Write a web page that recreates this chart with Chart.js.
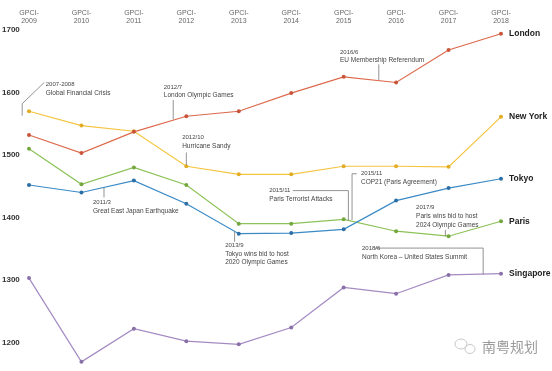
<!DOCTYPE html>
<html>
<head>
<meta charset="utf-8">
<script src="https://cdn.jsdelivr.net/npm/chart.js@4/dist/chart.umd.min.js"></script>
<style>
  body { margin: 0; background: #fff; }
  #wrap { width: 552px; height: 371px; position: relative; }
</style>
</head>
<body>
<div id="wrap"><canvas id="myChart"></canvas></div>
<script>
// Datos (GPCI 2009-2018)
const years = ["2009", "2010", "2011", "2012", "2013", "2014", "2015", "2016", "2017", "2018"]
const yTicks = [1200, 1300, 1400, 1500, 1600, 1700]

const london = [1532, 1503, 1537, 1562, 1570, 1599, 1625, 1616, 1668, 1694]
const newYork = [1570, 1547, 1538, 1482, 1469, 1469, 1482, 1482, 1481, 1561]
const tokyo = [1452, 1440, 1459, 1422, 1374, 1375, 1381, 1427, 1447, 1462]
const paris = [1510, 1453, 1480, 1452, 1390, 1390, 1397, 1378, 1370, 1394]
const singapore = [1303, 1169, 1222, 1202, 1197, 1224, 1288, 1278, 1308, 1310]

const cities = ["London", "New York", "Tokyo", "Paris", "Singapore"]

// Eventos: texto, posicion en indice de año / valor, y linea guia
const events = [
    { lines: ["2007-2008", "Global Financial Crisis"], x: 0.32, y: 1613, path: [[0.29, 1616], [-0.13, 1582], [-0.13, 1563]] },
    { lines: ["2012/7", "London Olympic Games"], x: 2.57, y: 1609, path: [[2.75, 1588], [2.75, 1557]] },
    { lines: ["2016/6", "EU Membership Referendum"], x: 5.93, y: 1665, path: [[6.67, 1645], [6.67, 1620]] },
    { lines: ["2012/10", "Hurricane Sandy"], x: 2.92, y: 1528, path: [[3, 1504], [3, 1484]] },
    { lines: ["2011/3", "Great East Japan Earthquake"], x: 1.22, y: 1424, path: [[1.43, 1448], [1.43, 1432]] },
    { lines: ["2013/9", "Tokyo wins bid to host", "2020 Olympic Games"], x: 3.74, y: 1356, path: [[3.92, 1377], [3.92, 1361]] },
    { lines: ["2015/11", "Paris Terrorist Attacks"], x: 4.58, y: 1443, path: [[5.03, 1443], [6.09, 1443], [6.09, 1395]] },
    { lines: ["2015/11", "COP21 (Paris Agreement)"], x: 6.33, y: 1470, path: [[6.25, 1470], [6.16, 1470], [6.16, 1396]] },
    { lines: ["2017/9", "Paris wins bid to host", "2024 Olympic Games"], x: 7.38, y: 1416, path: [[7.94, 1380], [7.94, 1370]] },
    { lines: ["2018/6", "North Korea \u2013 United States Summit"], x: 6.35, y: 1351, path: [[6.6, 1351], [8.66, 1351], [8.66, 1309]] }
]

const FONT = "'Liberation Sans', Arial, sans-serif"

const serie = (label, data, color, dot) => ({
    label: label,
    data: data,
    borderColor: color,
    backgroundColor: dot,
    borderWidth: 1.2,
    pointRadius: 2,
    pointBorderWidth: 0,
    pointBackgroundColor: dot,
    tension: 0
})

// Plugin para textos de eventos, nombres de ciudad y marca de agua
const extras = {
    id: "extras",
    afterDatasetsDraw(chart) {
        const ctx = chart.ctx
        const xs = chart.scales.x
        const ys = chart.scales.y
        const px = i => xs.getPixelForValue(i)
        const py = v => ys.getPixelForValue(v)

        ctx.save()
        // lineas guia
        ctx.strokeStyle = "#777"
        ctx.lineWidth = 0.8
        events.forEach(ev => {
            ctx.beginPath()
            ev.path.forEach((p, k) => {
                if (k === 0) ctx.moveTo(px(p[0]), py(p[1]))
                else ctx.lineTo(px(p[0]), py(p[1]))
            })
            ctx.stroke()
        })
        // textos
        ctx.fillStyle = "#444"
        ctx.textAlign = "left"
        ctx.textBaseline = "middle"
        events.forEach(ev => {
            ev.lines.forEach((t, k) => {
                ctx.font = (k === 0 ? "6px " : "6.5px ") + FONT
                ctx.fillText(t, px(ev.x), py(ev.y) + k * 8.8)
            })
        })
        // nombres de ciudad
        ctx.font = "bold 8.5px " + FONT
        ctx.fillStyle = "#222"
        chart.data.datasets.forEach((ds, i) => {
            const pts = chart.getDatasetMeta(i).data
            const last = pts[pts.length - 1]
            ctx.fillText(cities[i], last.x + 8, last.y)
        })
        // marca de agua
        ctx.strokeStyle = "#c8c8c8"
        ctx.lineWidth = 1
        ctx.beginPath()
        ctx.ellipse(461, 344, 6, 5, 0, 0, Math.PI * 2)
        ctx.stroke()
        ctx.beginPath()
        ctx.ellipse(470, 349, 5, 4.5, 0, 0, Math.PI * 2)
        ctx.stroke()
        ctx.font = "14px 'Noto Sans CJK SC', sans-serif"
        ctx.fillStyle = "#9a9a9a"
        ctx.fillText("南粤规划", 482, 347)
        ctx.restore()
    }
}

const ctx = document.querySelector("#myChart").getContext("2d")

new Chart(ctx, {
    type: "line",
    data: {
        labels: years.map(y => ["GPCI-", y]),
        datasets: [
            serie("London", london, "#dc6a4c", "#c9563a"),
            serie("New York", newYork, "#f5c441", "#e2ad25"),
            serie("Tokyo", tokyo, "#3a8ac6", "#2c6fa6"),
            serie("Paris", paris, "#8cc257", "#74a83f"),
            serie("Singapore", singapore, "#a48ac2", "#8a70a8")
        ]
    },
    options: {
        responsive: true,
        maintainAspectRatio: false,
        animation: false,
        layout: { padding: { left: 2, right: 51, top: 0, bottom: 0 } },
        plugins: {
            legend: { display: false },
            tooltip: { enabled: false }
        },
        scales: {
            x: {
                position: "top",
                offset: false,
                grid: { display: false, drawTicks: false },
                border: { display: false },
                afterFit(s) { s.height = 30 },
                ticks: {
                    color: "#666",
                    font: { family: FONT, size: 7, lineHeight: 1.15 },
                    padding: 5,
                    maxRotation: 0,
                    autoSkip: false
                }
            },
            y: {
                min: 1162,
                max: 1700,
                grid: { display: false, drawTicks: false },
                border: { display: false },
                afterFit(s) { s.width = 27 },
                afterBuildTicks(s) { s.ticks = yTicks.map(v => ({ value: v })) },
                ticks: {
                    color: "#333",
                    crossAlign: "far",
                    padding: 0,
                    font: { family: FONT, size: 8, weight: "bold" },
                    callback: v => String(v)
                }
            }
        }
    },
    plugins: [extras]
})
</script>
</body>
</html>
